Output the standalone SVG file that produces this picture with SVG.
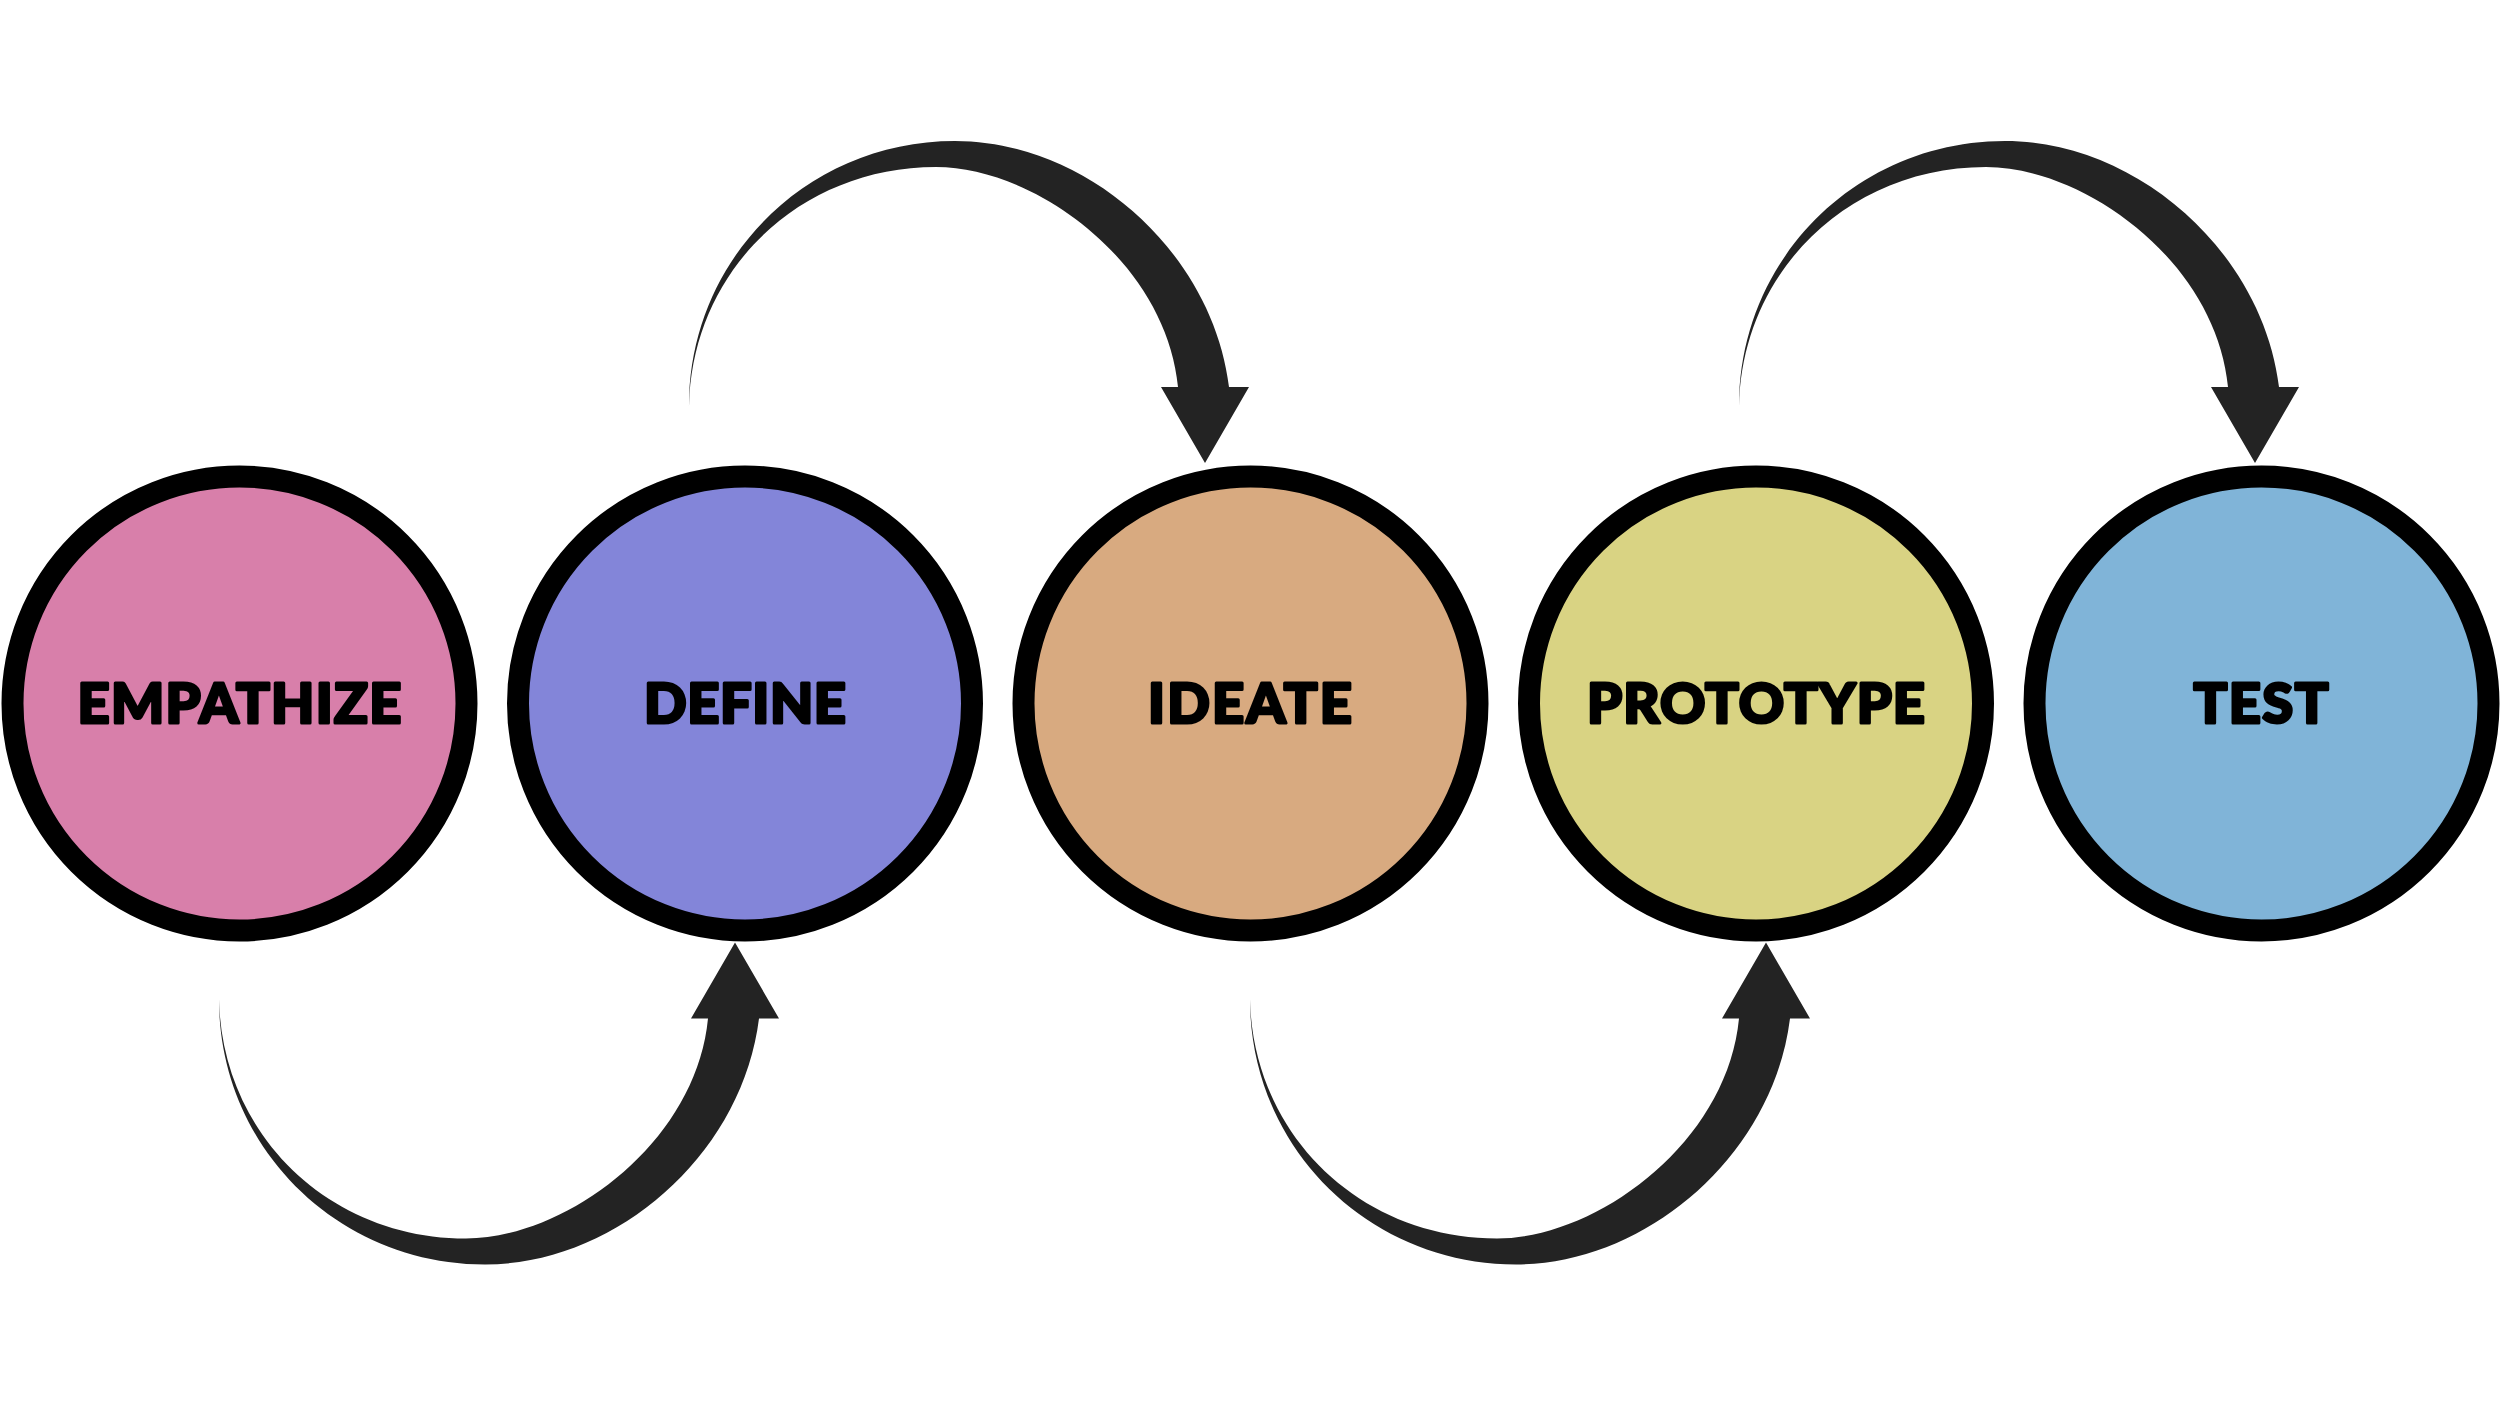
<svg xmlns="http://www.w3.org/2000/svg" xmlns:xlink="http://www.w3.org/1999/xlink" width="2500" height="1406" viewBox="0 0 2500 1406">
  <style>
    .ring { stroke: #000000; stroke-width: 22; }
    .label { font-family: "Lato", "Inter", "DejaVu Sans", sans-serif; font-weight: 900; font-size: 56px; fill: #000000; stroke: #000000; stroke-width: 3; stroke-linejoin: round; text-anchor: middle; }
    .arrow { fill: #232323; }
  </style>
  <defs>
    <path id="curvedArrow" class="arrow" d="M689,406 C689,258 808,141 955,141 C1085,141 1212,250 1229,387 L1249,387 L1205,463 L1161,387 L1178,387 C1166,262 1035,167 936,167 C800,167 692,270 689,406 Z"/>
  </defs>
  <rect x="0" y="0" width="2500" height="1406" fill="#ffffff"/>

  <g id="node-empathize">
    <circle class="ring" cx="239.5" cy="703.5" r="227" fill="#D87FAA"/>
    <text class="label" x="239.5" y="723" textLength="324" lengthAdjust="spacing">EMPATHIZE</text>
  </g>
  <g id="node-define">
    <circle class="ring" cx="745" cy="703.5" r="227" fill="#8385D9"/>
    <text class="label" x="745" y="723" textLength="202" lengthAdjust="spacing">DEFINE</text>
  </g>
  <g id="node-ideate">
    <circle class="ring" cx="1250.5" cy="703.5" r="227" fill="#D8AA80"/>
    <text class="label" x="1250" y="723" textLength="204" lengthAdjust="spacing">IDEATE</text>
  </g>
  <g id="node-prototype">
    <circle class="ring" cx="1756" cy="703.5" r="227" fill="#D9D383"/>
    <text class="label" x="1756" y="723" textLength="338" lengthAdjust="spacing">PROTOTYPE</text>
  </g>
  <g id="node-test">
    <circle class="ring" cx="2261.5" cy="703.5" r="227" fill="#80B4D8"/>
    <text class="label" x="2261" y="723" textLength="135" lengthAdjust="spacing">TEST</text>
  </g>

  <g id="connectors">
    <use id="arrow-empathize-define" xlink:href="#curvedArrow" href="#curvedArrow" transform="translate(-470,1405.5) scale(1,-1)"/>
    <use id="arrow-define-ideate" xlink:href="#curvedArrow" href="#curvedArrow"/>
    <use id="arrow-ideate-prototype" xlink:href="#curvedArrow" href="#curvedArrow" transform="translate(561,1405.5) scale(1,-1)"/>
    <use id="arrow-prototype-test" xlink:href="#curvedArrow" href="#curvedArrow" transform="translate(1050,0)"/>
  </g>
</svg>
